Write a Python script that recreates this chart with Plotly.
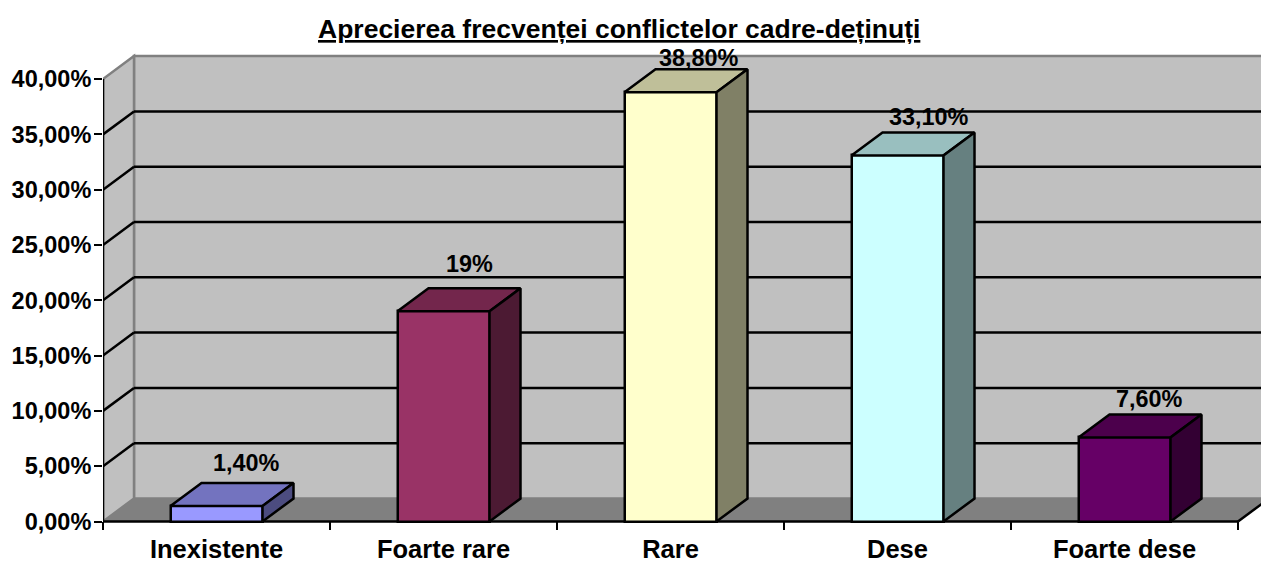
import plotly.graph_objects as go

TITLE = "Aprecierea frecvenței conflictelor cadre-deținuți"
categories = ["Inexistente", "Foarte rare", "Rare", "Dese", "Foarte dese"]
values = [1.4, 19, 38.8, 33.1, 7.6]
value_labels = ["1,40%", "19%", "38,80%", "33,10%", "7,60%"]
colors = ["#9999FF", "#993366", "#FFFFCC", "#CCFFFF", "#660066"]
y_ticks = [0, 5, 10, 15, 20, 25, 30, 35, 40]

# layout constants
W, H = 1261, 563
ML, MT, MB = 103, 50, 33
PX_X = 227.0           # pixels per category
PX_Y = 11.06           # pixels per percent
DX, DY = 31 / PX_X, 23 / PX_Y   # 3D depth in axis units
BAR_W = 92 / PX_X
LW = 2.5
label_shift_x = [30, 26, 28, 31, 25]
label_shift_y = [43, 47.5, 34, 38, 38]

n = len(categories)
x_max = (W - ML) / PX_X
y_min = -(H - MB - 521.5) / PX_Y
y_max = (521.5 - MT) / PX_Y
centers = [i + 0.5 for i in range(n)]
top = max(y_ticks)


def shade(hex_color, f):
    r, g, b = (int(hex_color[i:i + 2], 16) for i in (1, 3, 5))
    return f"rgb({round(r * f)},{round(g * f)},{round(b * f)})"


def poly(xs, ys, fill, color="black", width=LW):
    path = "M " + " L ".join(f"{x},{y}" for x, y in zip(xs, ys)) + " Z"
    return dict(type="path", path=path, xref="x", yref="y", layer="below",
                fillcolor=fill, line=dict(color=color, width=width))


def seg(x0, y0, x1, y1, color="black", width=LW):
    return dict(type="line", x0=x0, y0=y0, x1=x1, y1=y1, xref="x", yref="y",
                layer="below", line=dict(color=color, width=width))


shapes = [
    # back wall
    poly([DX, n + DX + 1, n + DX + 1, DX], [DY, DY, top + DY, top + DY], "#C0C0C0", "#808080"),
    # left wall
    poly([0, DX, DX, 0], [0, DY, top + DY, top], "#C0C0C0", "#808080"),
    # floor
    poly([0, n, n + DX, DX], [0, 0, DY, DY], "#808080", "#808080", 1),
]
for t in y_ticks[1:-1]:
    shapes.append(seg(0, t, DX, t + DY))
    shapes.append(seg(DX, t + DY, n + DX + 1, t + DY))
shapes.append(seg(0, 0, n, 0))
shapes.append(seg(n, 0, n + DX, DY))

fig = go.Figure()
fig.add_trace(go.Bar(
    x=centers, y=values, width=BAR_W,
    marker=dict(color=colors, line=dict(color="black", width=LW)),
    hoverinfo="skip", showlegend=False,
))
for c, v, col in zip(centers, values, colors):
    l, r = c - BAR_W / 2, c + BAR_W / 2
    # top face
    fig.add_trace(go.Scatter(
        x=[l, r, r + DX, l + DX, l], y=[v, v, v + DY, v + DY, v],
        mode="lines", fill="toself", fillcolor=shade(col, 0.75),
        line=dict(color="black", width=LW), hoverinfo="skip", showlegend=False,
    ))
    # side face
    fig.add_trace(go.Scatter(
        x=[r, r + DX, r + DX, r, r], y=[0, DY, v + DY, v, 0],
        mode="lines", fill="toself", fillcolor=shade(col, 0.5),
        line=dict(color="black", width=LW), hoverinfo="skip", showlegend=False,
    ))
# value axis line
fig.add_trace(go.Scatter(
    x=[0, 0], y=[0, top], mode="lines", cliponaxis=False,
    line=dict(color="black", width=LW), hoverinfo="skip", showlegend=False,
))

annotations = [
    dict(x=c, y=v, xref="x", yref="y", text=f"<b>{t}</b>", showarrow=False,
         xanchor="center", yanchor="middle", xshift=sx, yshift=sy,
         font=dict(family="Liberation Sans", size=23.4, color="black"))
    for c, v, t, sx, sy in zip(centers, values, value_labels, label_shift_x, label_shift_y)
]
annotations.append(dict(
    x=(619 - ML) / (W - ML), y=1 + (MT - 29) / (H - MT - MB),
    xref="paper", yref="paper", yanchor="middle", xanchor="center",
    text=f"<b><u>{TITLE}</u></b>", showarrow=False,
    font=dict(family="Liberation Sans", size=26.5, color="black"),
))

fig.update_layout(
    width=W, height=H,
    margin=dict(l=ML, r=0, t=MT, b=MB, pad=0, autoexpand=False),
    paper_bgcolor="white", plot_bgcolor="white",
    font=dict(family="Liberation Sans", size=22, color="black"),
    shapes=shapes, annotations=annotations,
    bargap=0,
    xaxis=dict(
        range=[0, x_max], tickmode="array", tickvals=centers,
        ticktext=[f"<b>{c}</b>" for c in categories], ticks="", showgrid=False,
        zeroline=False, showline=False, ticklabelstandoff=1, automargin=False,
        tickfont=dict(family="Liberation Sans", size=25.5, color="black"),
        minor=dict(tickmode="array", tickvals=list(range(n + 1)), ticks="inside",
                   ticklen=8, tickwidth=2, tickcolor="black", showgrid=False),
    ),
    yaxis=dict(
        range=[y_min, y_max], tickmode="array", tickvals=y_ticks,
        ticktext=[f"<b>{t:.2f}%</b>".replace(".", ",") for t in y_ticks],
        ticks="outside", ticklen=8, tickwidth=2, tickcolor="black",
        tickfont=dict(family="Liberation Sans", size=23.5, color="black"),
        ticklabelstandoff=-2, automargin=False,
        showgrid=False, zeroline=False, showline=False,
    ),
)
fig.write_html("out.html", config={"displayModeBar": False},
               post_script="document.body.style.margin='0';")
